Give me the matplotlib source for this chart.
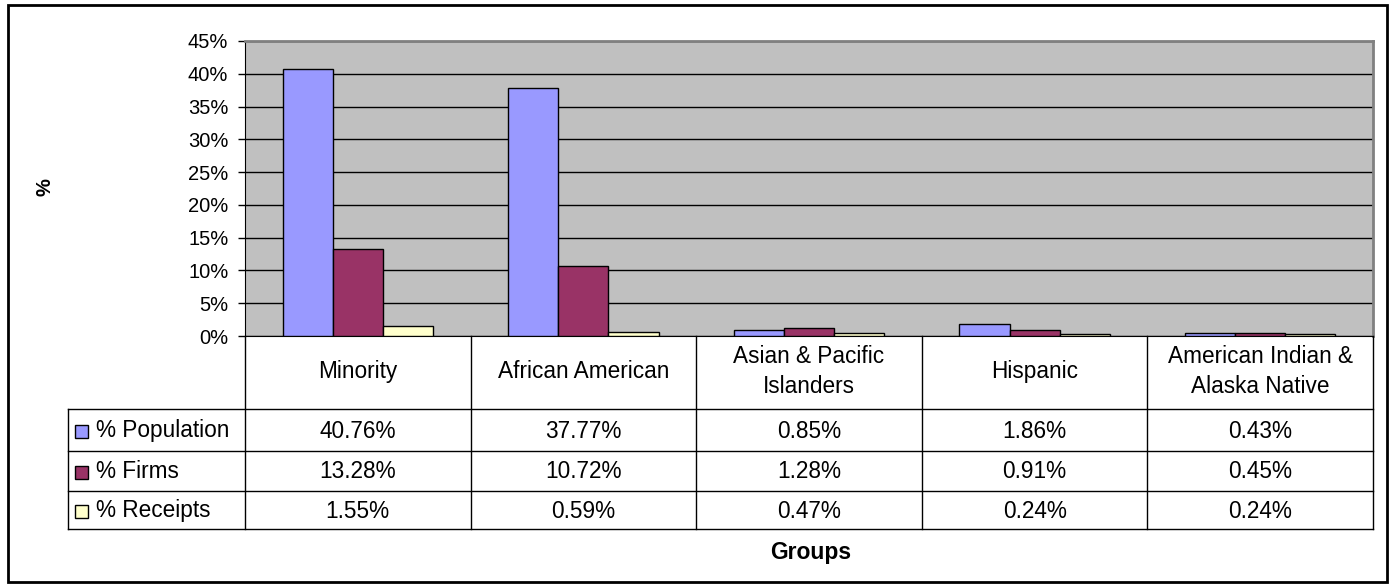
import matplotlib
matplotlib.use('Agg')
import matplotlib.pyplot as plt
import matplotlib.transforms as mtrans
from matplotlib.patches import Rectangle
from matplotlib.lines import Line2D
from matplotlib.ticker import FuncFormatter

categories = ["Minority", "African American", "Asian & Pacific\nIslanders",
              "Hispanic", "American Indian &\nAlaska Native"]
series_names = ["% Population", "% Firms", "% Receipts"]
population = [40.76, 37.77, 0.85, 1.86, 0.43]
firms = [13.28, 10.72, 1.28, 0.91, 0.45]
receipts = [1.55, 0.59, 0.47, 0.24, 0.24]
yticks = [0, 5, 10, 15, 20, 25, 30, 35, 40, 45]
colors = ['#9999FF', '#993366', '#FFFFCC']

plt.rcParams['font.family'] = ['Liberation Sans', 'DejaVu Sans']

W, H = 1394, 588
fig = plt.figure(figsize=(W / 100, H / 100), dpi=100)


def fx(px):
    return px / W


def fy(py):
    return 1 - py / H


# plot area
ax = fig.add_axes([fx(245), fy(336), (1373 - 245) / W, (336 - 41) / H])
ax.set_facecolor('#C0C0C0')
ax.set_xlim(-0.5, len(categories) - 0.5)
ax.set_ylim(0, 45)
ax.set_yticks(yticks)
ax.yaxis.set_major_formatter(FuncFormatter(lambda v, p: f"{v:.0f}%"))
ax.set_xticks([])
ax.tick_params(axis='y', direction='out', length=5, labelsize=14.5, pad=7, width=1)
ax.yaxis.grid(True, color='black', linewidth=1)
ax.set_axisbelow(True)
for s in ['top', 'right']:
    ax.spines[s].set_color('#808080')
    ax.spines[s].set_linewidth(2)
ax.spines['left'].set_color('black')
ax.spines['bottom'].set_color('black')

series = [population, firms, receipts]
bw = 0.222
for i, (vals, col) in enumerate(zip(series, colors)):
    xs = [k + (i - 1) * bw for k in range(len(categories))]
    ax.bar(xs, vals, width=bw, color=col, edgecolor='black', linewidth=1, zorder=3)

# data table below
trans = mtrans.blended_transform_factory(ax.transData, fig.transFigure)
row_edges = [336, 409, 451, 491, 529]
left_px = 68
lc = 'black'
lw = 1
for ry in row_edges[1:]:
    fig.add_artist(Line2D([fx(left_px), fx(1373)], [fy(ry), fy(ry)], color=lc, lw=lw,
                          transform=fig.transFigure))
for k in range(len(categories) + 1):
    xb = k - 0.5
    fig.add_artist(Line2D([xb, xb], [fy(336), fy(529)], color=lc, lw=lw, transform=trans))
fig.add_artist(Line2D([fx(left_px), fx(left_px)], [fy(409), fy(529)], color=lc, lw=lw,
                      transform=fig.transFigure))

fs = 16.3
for k, cat in enumerate(categories):
    fig.text(k, fy((row_edges[0] + row_edges[1]) / 2 - 1), cat, transform=trans,
             ha='center', va='center', fontsize=fs, linespacing=1.35)
for r, (name, vals, col) in enumerate(zip(series_names, series, colors)):
    yc = (row_edges[r + 1] + row_edges[r + 2]) / 2
    for k, v in enumerate(vals):
        fig.text(k, fy(yc + 1), f"{v:.2f}%", transform=trans, ha='center', va='center',
                 fontsize=fs)
    fig.add_artist(Rectangle((fx(75), fy(yc + 7.5)), 13 / W, 13 / H, facecolor=col,
                             edgecolor='black', lw=1, transform=fig.transFigure))
    fig.text(fx(96), fy(yc + 1), name, ha='left', va='center', fontsize=fs)

# axis titles
fig.text(fx(45), fy(187), "%", rotation=90, ha='center', va='center', fontsize=14.5,
         fontweight='bold')
fig.text(fx(811), fy(553), "Groups", ha='center', va='center', fontsize=16.5,
         fontweight='bold')

# outer border
fig.add_artist(Rectangle((fx(8), fy(582)), (1387 - 8) / W, (582 - 5) / H, fill=False,
                         edgecolor='black', lw=2, transform=fig.transFigure))

fig.savefig('out.png', dpi=100)
